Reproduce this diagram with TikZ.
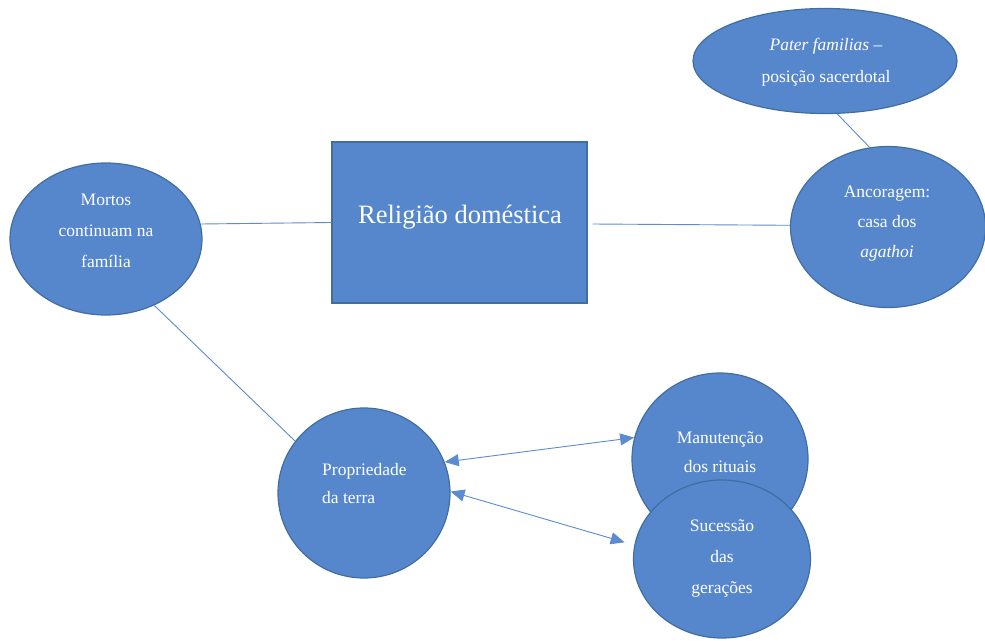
\documentclass[tikz,border=0pt]{standalone}
\usepackage{fontspec}
\setmainfont{Liberation Serif}
\usetikzlibrary{shapes.geometric,arrows.meta}
\definecolor{bfill}{RGB}{86,135,204}
\definecolor{bedge}{RGB}{65,110,160}
\definecolor{bline}{RGB}{91,139,208}
\tikzset{
  blob/.style={ellipse,fill=bfill,draw=bedge,line width=1.2pt,inner sep=0pt},
  lbl/.style={text=white,align=center,inner sep=0pt},
  conn/.style={draw=bline,line width=0.9pt},
  biarrow/.style={conn,{Triangle[length=14pt,width=12pt]}-{Triangle[length=14pt,width=12pt]}},
}
\begin{document}
\begin{tikzpicture}[x=1pt,y=-1pt]
\useasboundingbox (0,0) rectangle (985,640);
% nodes
\node[blob,minimum width=192pt,minimum height=152pt] (mortos) at (106,239) {};
\node[lbl,font=\fontsize{17.5}{31}\selectfont] (mortostxt) at (106,231) {Mortos\\continuam na\\família};
\node[rectangle,fill=bfill,draw=bedge,line width=1.2pt,minimum width=255pt,minimum height=161pt,inner sep=0pt] (rel) at (459.5,222.5) {};
\node[lbl,font=\fontsize{26.5}{30}\selectfont] (reltxt) at (460,217) {Religião doméstica};
\node[blob,minimum width=264pt,minimum height=105pt] (pater) at (825,61) {};
\node[lbl,font=\fontsize{17.5}{32}\selectfont] (patertxt) at (826,62) {\textit{Pater familias} –\\posição sacerdotal};
\node[blob,minimum width=195pt,minimum height=161pt] (anc) at (888,227) {};
\node[lbl,font=\fontsize{17.5}{30}\selectfont] (anctxt) at (887,224) {Ancoragem:\\casa dos\\\textit{agathoi}};
\node[blob,minimum width=172pt,minimum height=170pt] (prop) at (364,493) {};
\node[lbl,align=left,anchor=west,font=\fontsize{17.5}{28}\selectfont] (proptxt) at (322,484) {Propriedade\\da terra};
\node[blob,minimum width=176pt,minimum height=172pt] (man) at (720,459) {};
\node[lbl,font=\fontsize{17.5}{29}\selectfont] (mantxt) at (720,452) {Manutenção\\dos rituais};
\node[blob,minimum width=177pt,minimum height=158pt] (suc) at (722,559) {};
\node[lbl,font=\fontsize{17.5}{31}\selectfont] (suctxt) at (722,558) {Sucessão\\das\\gerações};
% connectors
\draw[conn] (mortos.9) -- (rel.west);
\draw[conn] ([xshift=5pt,yshift=-1.5pt]rel.east) -- (anc.179);
\draw[conn] (pater.-77) -- (anc.103);
\draw[conn] (mortos.-54) -- (prop.143);
\draw[biarrow] (prop.21) -- (man.166);
\draw[biarrow,shorten >=10pt] (prop.1) -- (suc.171);
\end{tikzpicture}
\end{document}
